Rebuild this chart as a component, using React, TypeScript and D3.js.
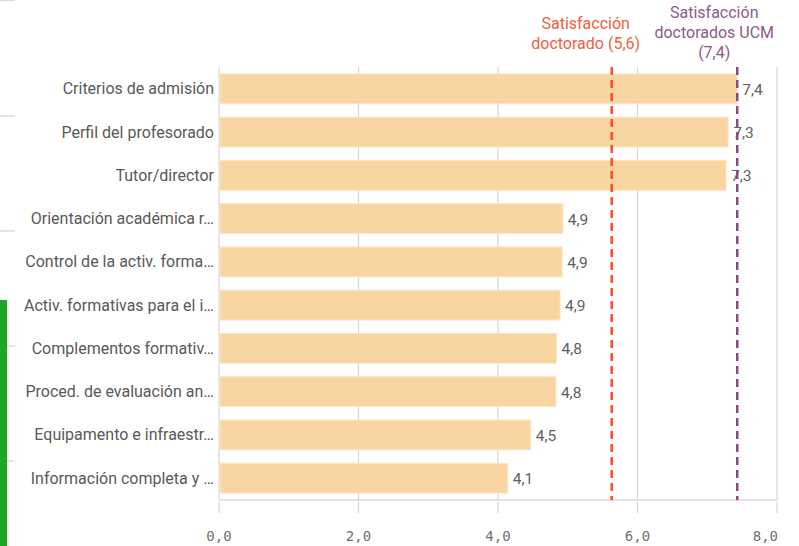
import React from "react";
import * as d3 from "d3";

const categories = [
  "Criterios de admisión",
  "Perfil del profesorado",
  "Tutor/director",
  "Orientación académica r…",
  "Control de la activ. forma…",
  "Activ. formativas para el i…",
  "Complementos formativ…",
  "Proced. de evaluación an…",
  "Equipamento e infraestr…",
  "Información completa y …",
];
const values = [7.43, 7.3, 7.27, 4.93, 4.92, 4.89, 4.84, 4.83, 4.47, 4.14];
const xTicks = [0, 2, 4, 6, 8];
const refLines = [
  { value: 5.63, lines: ["Satisfacción", "doctorado (5,6)"], color: "#ff4a26", text: "#f0603e" },
  { value: 7.43, lines: ["Satisfacción", "doctorados UCM", "(7,4)"], color: "#8b4a80", text: "#8e5a88" },
];

const W = 799;
const H = 546;
const left = 219;
const right = 777;
const top = 67;
const bottom = 500;
const fmt = (v: number) => v.toFixed(1).replace(".", ",");
const FONT = "Roboto, sans-serif";

export default function App() {
  const x = d3.scaleLinear().domain([0, 8]).range([left, right]);
  const y = d3
    .scaleBand<string>()
    .domain(categories)
    .range([top, bottom])
    .paddingInner(0.31)
    .paddingOuter(0.16);
  const grid = "#d6d6d6";
  return (
    <svg width={W} height={H} style={{ position: "absolute", left: 0, top: 0, background: "#fff" }}>
      {/* left decorations */}
      {[0.5, 116, 231, 346, 461].map((yy, i) => (
        <line key={i} x1={0} x2={15} y1={yy} y2={yy} stroke="#dcdcdc" strokeWidth={1.5} />
      ))}
      <rect x={0} y={300} width={7} height={H - 300} fill="#1fa424" />

      {/* gridlines */}
      {xTicks.map((t) => (
        <g key={t}>
          <line x1={x(t)} x2={x(t)} y1={top} y2={bottom} stroke={grid} strokeWidth={1.2} />
          <line x1={x(t)} x2={x(t)} y1={bottom + 2} y2={bottom + 13} stroke={grid} strokeWidth={1.2} />
          <text
            x={t === 8 ? x(t) + 1 : x(t)}
            y={541}
            textAnchor={t === 8 ? "end" : "middle"}
            fontFamily="'DejaVu Sans Mono', monospace"
            fontSize={14}
            fill="#707070"
          >
            {fmt(t)}
          </text>
        </g>
      ))}
      <line x1={left} x2={right} y1={bottom} y2={bottom} stroke="#c8c8c8" strokeWidth={1.2} />

      {/* bars */}
      {categories.map((c, i) => (
        <g key={c}>
          <rect
            x={x(0) + 1}
            y={y(c)!}
            width={x(values[i]) - x(0) - 1}
            height={y.bandwidth()}
            fill="#f9d6a1"
            stroke="#fbe6c6"
            strokeWidth={1}
          />
          <text
            x={214}
            y={y(c)! + y.bandwidth() / 2}
            dy="0.35em"
            textAnchor="end"
            fontFamily={FONT}
            fontSize={16}
            fill="#595959"
          >
            {c}
          </text>
          <text
            x={x(values[i]) + 5}
            y={y(c)! + y.bandwidth() / 2}
            dy="0.38em"
            fontFamily={FONT}
            fontSize={15.5}
            fill="#5f5f5f"
          >
            {fmt(values[i])}
          </text>
        </g>
      ))}

      {/* reference lines */}
      {refLines.map((r, k) => {
        const n = r.lines.length;
        const cx = x(r.value) - (k === 0 ? 26 : 23);
        return (
          <g key={k}>
            <line
              x1={x(r.value)}
              x2={x(r.value)}
              y1={top}
              y2={bottom}
              stroke={r.color}
              strokeWidth={2.5}
              strokeDasharray="8,5"
            />
            {r.lines.map((l, j) => (
              <text
                key={j}
                x={cx}
                y={58 - (n - 1 - j) * 20 - (k === 0 ? 9 : 0)}
                textAnchor="middle"
                fontFamily={FONT}
                fontSize={16}
                fill={r.text}
              >
                {l}
              </text>
            ))}
          </g>
        );
      })}
    </svg>
  );
}
